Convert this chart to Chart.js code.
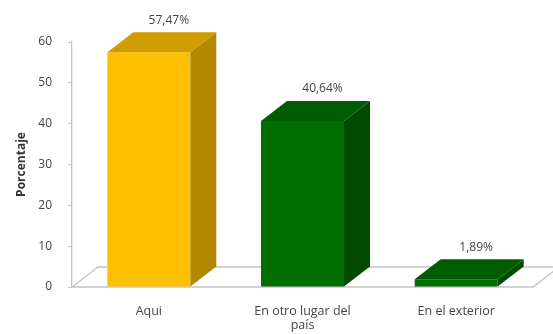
<!DOCTYPE html>
<html>
<head>
<meta charset="utf-8">
<script src="https://cdn.jsdelivr.net/npm/chart.js@4.4.1/dist/chart.umd.min.js"></script>
<style>
  html, body { margin: 0; padding: 0; background: #fff; }
  #wrap { width: 553px; height: 334px; }
</style>
</head>
<body>
<div id="wrap"><canvas id="grafico"></canvas></div>
<script>
// datos
const categorias = ['Aqui', ['En otro lugar del', 'país'], 'En el exterior']
const porcentajes = [57.47, 40.64, 1.89]
const etiquetas = ['57,47%', '40,64%', '1,89%']
const coloresFrente = ['#FDBF00', '#006E00', '#006E00']
const coloresLado = ['#B48900', '#004B00', '#004B00']
const coloresArriba = ['#CF9D00', '#005C00', '#005C00']

const dx = 26
const dy = -20
const colorTexto = '#444'
const fuente = "'Open Sans', 'Liberation Sans', sans-serif"

// piso y caras 3D de las barras
const efecto3d = {
    id: 'efecto3d',
    beforeDatasetsDraw(chart) {
        const ctx = chart.ctx
        const area = chart.chartArea
        ctx.save()
        ctx.strokeStyle = '#c4c4c4'
        ctx.lineWidth = 1.3
        ctx.beginPath()
        ctx.moveTo(area.left, area.bottom)
        ctx.lineTo(area.right, area.bottom)
        ctx.lineTo(area.right + dx, area.bottom + dy)
        ctx.lineTo(area.left + dx, area.bottom + dy)
        ctx.closePath()
        ctx.stroke()
        ctx.restore()
    },
    afterDatasetsDraw(chart) {
        const ctx = chart.ctx
        const meta = chart.getDatasetMeta(0)
        ctx.save()
        meta.data.forEach(function(bar, i) {
            const p = bar.getProps(['x', 'y', 'base', 'width'], true)
            const izq = p.x - p.width / 2
            const der = p.x + p.width / 2
            // lado
            ctx.fillStyle = coloresLado[i]
            ctx.beginPath()
            ctx.moveTo(der, p.y)
            ctx.lineTo(der + dx, p.y + dy)
            ctx.lineTo(der + dx, p.base + dy)
            ctx.lineTo(der, p.base)
            ctx.closePath()
            ctx.fill()
            // arriba
            ctx.fillStyle = coloresArriba[i]
            ctx.beginPath()
            ctx.moveTo(izq, p.y)
            ctx.lineTo(izq + dx, p.y + dy)
            ctx.lineTo(der + dx, p.y + dy)
            ctx.lineTo(der, p.y)
            ctx.closePath()
            ctx.fill()
            // etiqueta
            ctx.fillStyle = colorTexto
            ctx.font = '12px ' + fuente
            ctx.textAlign = 'center'
            ctx.textBaseline = 'middle'
            ctx.fillText(etiquetas[i], p.x + dx / 2 + 7, p.y + dy - 12)
        })
        ctx.restore()
    }
}

let canvas = document.getElementById('grafico').getContext('2d')

new Chart(canvas, {
    type: 'bar',
    data: {
        labels: categorias,
        datasets: [{
            data: porcentajes,
            backgroundColor: coloresFrente,
            borderWidth: 0,
            barPercentage: 0.54,
            categoryPercentage: 1
        }]
    },
    options: {
        responsive: true,
        maintainAspectRatio: false,
        animation: false,
        layout: { padding: { top: 42, right: 20, left: 0, bottom: 0 } },
        plugins: {
            legend: { display: false },
            tooltip: { enabled: false }
        },
        scales: {
            x: {
                grid: { display: false, drawTicks: false },
                border: { display: false },
                ticks: { color: colorTexto, font: { family: fuente, size: 12.5, lineHeight: 1.15 }, padding: 17, maxRotation: 0 },
                afterFit: function(s) { s.height = 47 }
            },
            y: {
                min: 0,
                max: 60,
                ticks: { stepSize: 10, color: colorTexto, font: { family: fuente, size: 12 }, padding: 16 },
                grid: { drawOnChartArea: false, drawTicks: true, tickLength: 4, color: '#c4c4c4' },
                border: { display: true, color: '#c4c4c4', width: 1.3 },
                title: { display: true, text: 'Porcentaje', color: '#333', font: { family: fuente, size: 12, weight: 'bold' }, padding: { top: 14, bottom: 0 } },
                afterFit: function(s) { s.width = 72 }
            }
        }
    },
    plugins: [efecto3d]
})
</script>
</body>
</html>
